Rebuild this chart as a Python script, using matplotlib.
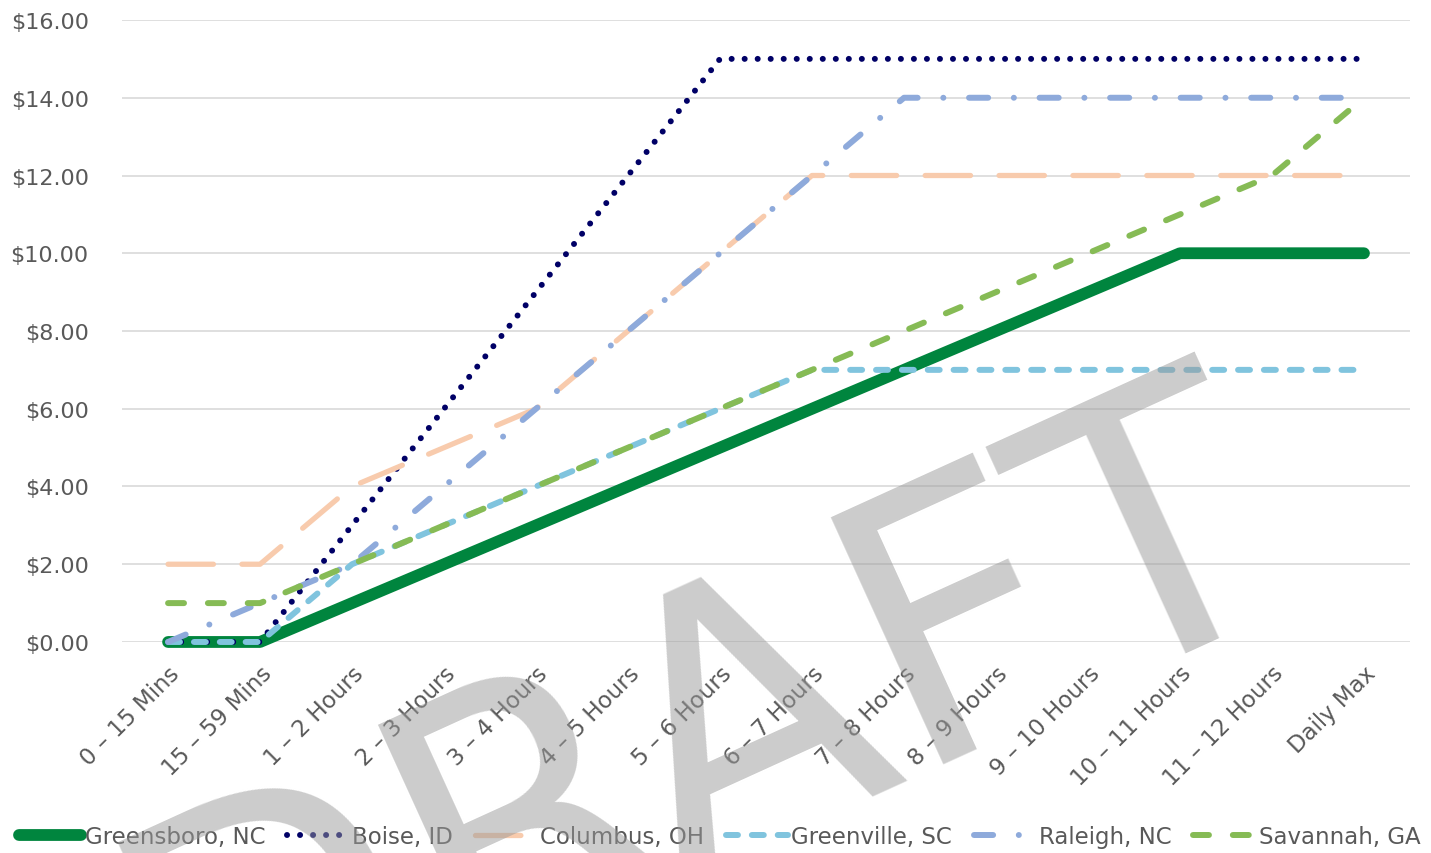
import matplotlib
matplotlib.use("Agg")
import matplotlib.pyplot as plt
from matplotlib.ticker import FuncFormatter

plt.rcParams['font.family'] = ['DejaVu Sans']

# Parking rate tiers
categories = ['0 – 15 Mins', '15 – 59 Mins', '1 – 2 Hours', '2 – 3 Hours',
              '3 – 4 Hours', '4 – 5 Hours', '5 – 6 Hours', '6 – 7 Hours',
              '7 – 8 Hours', '8 – 9 Hours', '9 – 10 Hours', '10 – 11 Hours',
              '11 – 12 Hours', 'Daily Max']

greensboro = [0, 0, 1, 2, 3, 4, 5, 6, 7, 8, 9, 10, 10, 10]
boise = [0, 0, 3, 6, 9, 12, 15, 15, 15, 15, 15, 15, 15, 15]
columbus = [2, 2, 4, 5, 6, 8, 10, 12, 12, 12, 12, 12, 12, 12]
greenville = [0, 0, 2, 3, 4, 5, 6, 7, 7, 7, 7, 7, 7, 7]
raleigh = [0, 1, 2, 4, 6, 8, 10, 12, 14, 14, 14, 14, 14, 14]
savannah = [1, 1, 2, 3, 4, 5, 6, 7, 8, 9, 10, 11, 12, 14]

series_names = ['Greensboro, NC', 'Boise, ID', 'Columbus, OH',
                'Greenville, SC', 'Raleigh, NC', 'Savannah, GA']

TEXT = '#595959'
GRID = '#d9d9d9'

fig = plt.figure(figsize=(14.31, 8.54), dpi=100)
ax = fig.add_axes([0.0853, 0.2471, 0.9000, 0.7283])

x = list(range(len(categories)))

styles = [
    dict(color='#00853e', lw=8.5, ls='-', solid_capstyle='round'),
    dict(color='#000066', lw=4.3, ls=(0, (0.01, 2.17)), dash_capstyle='round'),
    dict(color='#f8cbad', lw=3.8, ls=(0, (8.6, 5.4)), dash_capstyle='round'),
    dict(color='#80c4de', lw=4.3, ls=(0, (2.0, 2.33)), dash_capstyle='round'),
    dict(color='#8eaadb', lw=4.3, ls=(0, (3.2, 4.3, 0.01, 4.3)), dash_capstyle='round'),
    dict(color='#86bb55', lw=4.3, ls=(0, (2.67, 4.0)), dash_capstyle='round'),
]

handles = []
for name, vals, st in zip(series_names,
                          [greensboro, boise, columbus, greenville, raleigh, savannah],
                          styles):
    ln, = ax.plot(x, vals, label=name, clip_on=False,
                  solid_joinstyle='round', dash_joinstyle='round', **st)
    handles.append(ln)

ax.set_xlim(-0.5, len(categories) - 0.5)
ax.set_ylim(0, 16)
ax.set_yticks(range(0, 17, 2))
ax.yaxis.set_major_formatter(FuncFormatter(lambda v, p: f'${v:.2f}'))
ax.set_xticks(x)
ax.set_xticklabels(categories, rotation=45, ha='right', va='top',
                   rotation_mode='anchor')

ax.grid(axis='y', color=GRID, lw=1.2)
ax.set_axisbelow(True)
for s in ax.spines.values():
    s.set_visible(False)
ax.tick_params(axis='both', length=0, labelcolor=TEXT)
ax.tick_params(axis='y', pad=24, labelsize=16)
ax.tick_params(axis='x', pad=14, labelsize=16.5)

fig.legend(handles=handles, loc='center', bbox_to_anchor=(0.503, 0.019),
           ncol=6, frameon=False, fontsize=16.5, labelcolor=TEXT,
           handlelength=2.7, handletextpad=0.15, columnspacing=0.95)

# Watermark across the whole figure
fig.text(0.523, 0.022, 'DRAFT', fontsize=268, rotation=24.5,
         rotation_mode='anchor', ha='center', va='baseline',
         color='#999999', alpha=0.5, zorder=10)

fig.savefig('out.png', dpi=100)
